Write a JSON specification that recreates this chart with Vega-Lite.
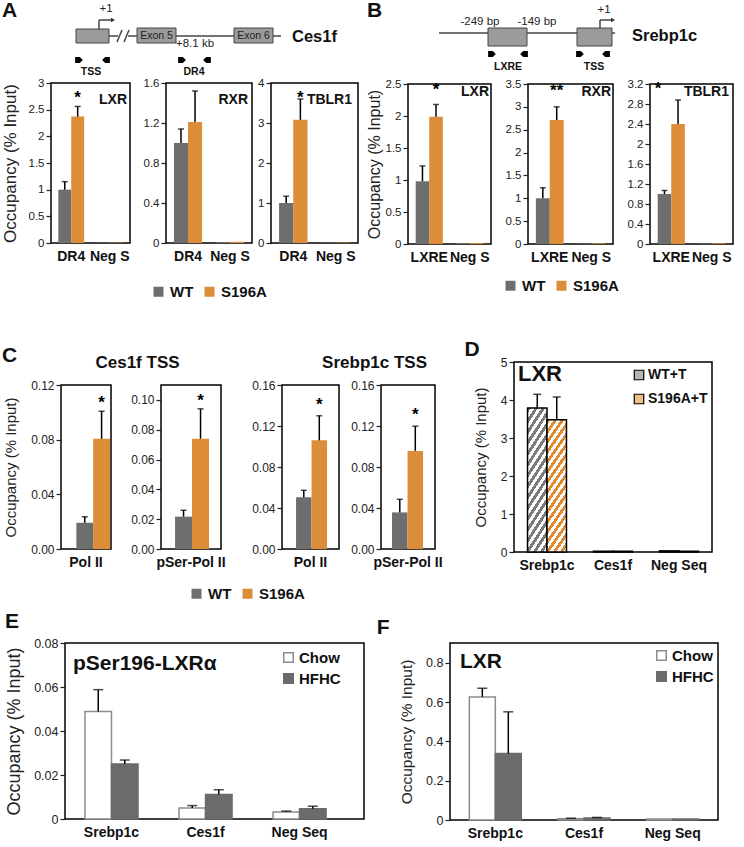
{
"$schema": "https://vega.github.io/schema/vega-lite/v6.json",
"background": "white",
"padding": {"left": 0, "top": 0, "right": 2, "bottom": 2},
"config": {
  "font": "Liberation Sans",
  "view": {"stroke": "black", "strokeWidth": 1.5},
  "axisX": {"ticks": false, "domain": false, "grid": false, "labelFontSize": 14, "labelFontWeight": "bold", "labelColor": "#111", "labelAngle": 0, "labelPadding": 6},
  "axisY": {"domain": false, "grid": false, "labelOverlap": false, "tickSize": 5, "tickWidth": 1.2, "tickColor": "#222", "labelColor": "#222", "labelPadding": 2, "labelFontSize": 12, "titleFontWeight": "normal", "titleColor": "#222"},
  "title": {"fontWeight": "bold", "color": "#111"}
},
"datasets": {
  "diagA": [
    {"kind": "seg", "x": 58, "y": 35, "x2": 67, "y2": 35},
    {"kind": "seg", "x": 77, "y": 35, "x2": 86, "y2": 35},
    {"kind": "seg", "x": 125, "y": 35, "x2": 183, "y2": 35},
    {"kind": "seg", "x": 222, "y": 35, "x2": 230, "y2": 35},
    {"kind": "seg", "x": 66, "y": 41, "x2": 71, "y2": 29},
    {"kind": "seg", "x": 73, "y": 41, "x2": 78, "y2": 29},
    {"kind": "seg", "x": 48, "y": 28, "x2": 48, "y2": 19},
    {"kind": "seg", "x": 48, "y": 19, "x2": 60, "y2": 19},
    {"kind": "head", "x": 62, "y": 19},
    {"kind": "box", "x": 25, "y": 28, "x2": 58, "y2": 42},
    {"kind": "box", "x": 86, "y": 27, "x2": 125, "y2": 42},
    {"kind": "box", "x": 183, "y": 27, "x2": 222, "y2": 42},
    {"kind": "exon", "x": 105.5, "y": 34.5, "label": "Exon 5"},
    {"kind": "exon", "x": 202.5, "y": 34.5, "label": "Exon 6"},
    {"kind": "note", "x": 55, "y": 8, "label": "+1"},
    {"kind": "note", "x": 144, "y": 43, "label": "+8.1 kb"},
    {"kind": "gene", "x": 241, "y": 36, "label": "Ces1f"},
    {"kind": "fwd", "x": 28, "y": 59},
    {"kind": "rev", "x": 55, "y": 59},
    {"kind": "fwd", "x": 131, "y": 59},
    {"kind": "rev", "x": 156, "y": 59},
    {"kind": "primer", "x": 40, "y": 71, "label": "TSS"},
    {"kind": "primer", "x": 143, "y": 71, "label": "DR4"}
  ],
  "diagB": [
    {"kind": "seg", "x": 31, "y": 32, "x2": 207, "y2": 32},
    {"kind": "seg", "x": 192, "y": 28, "x2": 192, "y2": 19},
    {"kind": "seg", "x": 192, "y": 19, "x2": 203, "y2": 19},
    {"kind": "head", "x": 205, "y": 19},
    {"kind": "box", "x": 80, "y": 27, "x2": 119, "y2": 45},
    {"kind": "box", "x": 169, "y": 27, "x2": 204, "y2": 45},
    {"kind": "note", "x": 72, "y": 21, "label": "-249 bp"},
    {"kind": "note", "x": 129, "y": 21, "label": "-149 bp"},
    {"kind": "note", "x": 196, "y": 9, "label": "+1"},
    {"kind": "gene", "x": 224, "y": 35, "label": "Srebp1c"},
    {"kind": "fwd", "x": 84, "y": 53},
    {"kind": "rev", "x": 116, "y": 53},
    {"kind": "fwd", "x": 172, "y": 53},
    {"kind": "rev", "x": 198, "y": 53},
    {"kind": "primer", "x": 100, "y": 66, "label": "LXRE"},
    {"kind": "primer", "x": 186, "y": 66, "label": "TSS"}
  ],
  "headerC": [{"panel": "Ces1f TSS"}, {"panel": "Srebp1c TSS"}],
  "blank": [{"k": 0}],
  "legWT": [{"group": "WT"}, {"group": "S196A"}],
  "A_LXR": [
    {"site": "DR4", "group": "WT", "value": 1.0, "err": 1.15},
    {"site": "DR4", "group": "S196A", "value": 2.37, "err": 2.56, "sig": "*"},
    {"site": "Neg S", "group": "WT", "value": 0.006},
    {"site": "Neg S", "group": "S196A", "value": 0.008}
  ],
  "A_RXR": [
    {"site": "DR4", "group": "WT", "value": 1.0, "err": 1.14},
    {"site": "DR4", "group": "S196A", "value": 1.21, "err": 1.52},
    {"site": "Neg S", "group": "WT", "value": 0.01},
    {"site": "Neg S", "group": "S196A", "value": 0.012}
  ],
  "A_TBLR1": [
    {"site": "DR4", "group": "WT", "value": 1.0, "err": 1.17},
    {"site": "DR4", "group": "S196A", "value": 3.08, "err": 3.6, "sig": "*"},
    {"site": "Neg S", "group": "WT", "value": 0.01},
    {"site": "Neg S", "group": "S196A", "value": 0.01}
  ],
  "B_LXR": [
    {"site": "LXRE", "group": "WT", "value": 0.98, "err": 1.22},
    {"site": "LXRE", "group": "S196A", "value": 1.99, "err": 2.18, "sig": "*"},
    {"site": "Neg S", "group": "WT", "value": 0.015},
    {"site": "Neg S", "group": "S196A", "value": 0.015}
  ],
  "B_RXR": [
    {"site": "LXRE", "group": "WT", "value": 1.0, "err": 1.23},
    {"site": "LXRE", "group": "S196A", "value": 2.71, "err": 3.0, "sig": "**"},
    {"site": "Neg S", "group": "WT", "value": 0.01},
    {"site": "Neg S", "group": "S196A", "value": 0.015}
  ],
  "B_TBLR1": [
    {"site": "LXRE", "group": "WT", "value": 1.0, "err": 1.07},
    {"site": "LXRE", "group": "S196A", "value": 2.4, "err": 2.88, "sig": "*"},
    {"site": "Neg S", "group": "WT", "value": 0.01},
    {"site": "Neg S", "group": "S196A", "value": 0.015}
  ],
  "C_ces_pol": [
    {"site": "Pol II", "group": "WT", "value": 0.0192, "err": 0.0236},
    {"site": "Pol II", "group": "S196A", "value": 0.0806, "err": 0.1008, "sig": "*"}
  ],
  "C_ces_pser": [
    {"site": "pSer-Pol II", "group": "WT", "value": 0.0217, "err": 0.026},
    {"site": "pSer-Pol II", "group": "S196A", "value": 0.074, "err": 0.094, "sig": "*"}
  ],
  "C_sreb_pol": [
    {"site": "Pol II", "group": "WT", "value": 0.0505, "err": 0.0573},
    {"site": "Pol II", "group": "S196A", "value": 0.106, "err": 0.13, "sig": "*"}
  ],
  "C_sreb_pser": [
    {"site": "pSer-Pol II", "group": "WT", "value": 0.0357, "err": 0.0485},
    {"site": "pSer-Pol II", "group": "S196A", "value": 0.0957, "err": 0.1198, "sig": "*"}
  ],
  "D": [
    {"site": "Srebp1c", "group": "WT+T", "value": 3.79, "err": 4.15},
    {"site": "Srebp1c", "group": "S196A+T", "value": 3.48, "err": 4.08},
    {"site": "Ces1f", "group": "WT+T", "value": 0.02},
    {"site": "Ces1f", "group": "S196A+T", "value": 0.02},
    {"site": "Neg Seq", "group": "WT+T", "value": 0.03},
    {"site": "Neg Seq", "group": "S196A+T", "value": 0.02}
  ],
  "E": [
    {"site": "Srebp1c", "diet": "Chow", "value": 0.0489, "err": 0.0588},
    {"site": "Srebp1c", "diet": "HFHC", "value": 0.025, "err": 0.0268},
    {"site": "Ces1f", "diet": "Chow", "value": 0.005, "err": 0.0061},
    {"site": "Ces1f", "diet": "HFHC", "value": 0.0111, "err": 0.0133},
    {"site": "Neg Seq", "diet": "Chow", "value": 0.0032, "err": 0.0036},
    {"site": "Neg Seq", "diet": "HFHC", "value": 0.0047, "err": 0.0058}
  ],
  "F": [
    {"site": "Srebp1c", "diet": "Chow", "value": 0.626, "err": 0.67},
    {"site": "Srebp1c", "diet": "HFHC", "value": 0.338, "err": 0.55},
    {"site": "Ces1f", "diet": "Chow", "value": 0.007, "err": 0.009},
    {"site": "Ces1f", "diet": "HFHC", "value": 0.01, "err": 0.013},
    {"site": "Neg Seq", "diet": "Chow", "value": 0.005},
    {"site": "Neg Seq", "diet": "HFHC", "value": 0.005}
  ]
},
"vconcat": [
  {
    "vconcat": [
      {
        "hconcat": [
          {
            "vconcat": [
              {
                "width": 300, "height": 74, "view": {"stroke": null}, "data": {"name": "diagA"},
                "title": {"text": "A", "anchor": "start", "frame": "group", "offset": -20, "dx": -49, "fontSize": 21},
                "encoding": {
                  "x": {"field": "x", "type": "quantitative", "scale": {"domain": [0, 300], "nice": false, "zero": false}, "axis": null},
                  "y": {"field": "y", "type": "quantitative", "scale": {"domain": [0, 74], "nice": false, "zero": false, "reverse": true}, "axis": null}
                },
                "layer": [
                  {"transform": [{"filter": "datum.kind == 'seg'"}], "mark": {"type": "rule", "color": "#444", "strokeWidth": 1.5}, "encoding": {"x2": {"field": "x2"}, "y2": {"field": "y2"}}},
                  {"transform": [{"filter": "datum.kind == 'box'"}], "mark": {"type": "rect", "fill": "#9b9b9b", "stroke": "#444", "strokeWidth": 1}, "encoding": {"x2": {"field": "x2"}, "y2": {"field": "y2"}}},
                  {"transform": [{"filter": "datum.kind == 'head'"}], "mark": {"type": "point", "shape": "triangle-right", "filled": true, "color": "#333", "size": 22, "opacity": 1}},
                  {"transform": [{"filter": "datum.kind == 'exon'"}], "mark": {"type": "text", "fontSize": 10.5, "color": "#222"}, "encoding": {"text": {"field": "label"}}},
                  {"transform": [{"filter": "datum.kind == 'note'"}], "mark": {"type": "text", "fontSize": 11.5, "color": "#222"}, "encoding": {"text": {"field": "label"}}},
                  {"transform": [{"filter": "datum.kind == 'gene'"}], "mark": {"type": "text", "fontSize": 16.5, "fontWeight": "bold", "align": "left", "color": "#111"}, "encoding": {"text": {"field": "label"}}},
                  {"transform": [{"filter": "datum.kind == 'fwd'"}], "mark": {"type": "point", "shape": "M-1,-0.75L0.2,-0.75L1,0L0.2,0.75L-1,0.75Z", "filled": true, "color": "black", "size": 60, "opacity": 1}},
                  {"transform": [{"filter": "datum.kind == 'rev'"}], "mark": {"type": "point", "shape": "M1,-0.75L-0.2,-0.75L-1,0L-0.2,0.75L1,0.75Z", "filled": true, "color": "black", "size": 60, "opacity": 1}},
                  {"transform": [{"filter": "datum.kind == 'primer'"}], "mark": {"type": "text", "fontSize": 10.5, "fontWeight": "bold", "color": "#111"}, "encoding": {"text": {"field": "label"}}}
                ]
              },
              {
                "hconcat": [
                  {
                    "width": 79, "height": 160, "data": {"name": "A_LXR"},
                    "title": {"text": "LXR", "anchor": "end", "frame": "group", "offset": -30, "dx": -3, "fontSize": 14},
                    "encoding": {
                      "x": {"field": "site", "type": "nominal", "sort": null, "title": null, "scale": {"paddingInner": 0.33, "paddingOuter": 0.19}},
                      "xOffset": {"field": "group", "type": "nominal", "sort": ["WT", "S196A"]}
                    },
                    "layer": [
                      {"mark": "bar", "encoding": {
                        "y": {"field": "value", "type": "quantitative", "scale": {"domain": [0, 3], "nice": false}, "axis": {"values": [0, 0.5, 1, 1.5, 2, 2.5, 3], "tickCount": 20, "labelOverlap": false, "format": "~g", "title": "Occupancy  (% Input)", "titleFontSize": 17, "titlePadding": 9, "labelFontSize": 11.5}},
                        "color": {"field": "group", "type": "nominal", "scale": {"domain": ["WT", "S196A"], "range": ["#6e6e6e", "#dd8c38"]}, "legend": null}}},
                      {"transform": [{"filter": "datum.err != null"}], "mark": {"type": "rule", "color": "black", "strokeWidth": 1.5}, "encoding": {"y": {"field": "value", "type": "quantitative"}, "y2": {"field": "err"}}},
                      {"transform": [{"filter": "datum.err != null"}], "mark": {"type": "tick", "color": "black", "thickness": 1.5, "size": 6}, "encoding": {"y": {"field": "err", "type": "quantitative"}}},
                      {"transform": [{"filter": "datum.sig != null"}], "mark": {"type": "text", "fontSize": 17, "fontWeight": "bold", "baseline": "middle", "dy": -8}, "encoding": {"y": {"field": "err", "type": "quantitative"}, "text": {"field": "sig"}}}
                    ]
                  },
                  {
                    "hconcat": [
                      {
                        "width": 86, "height": 160, "data": {"name": "A_RXR"},
                        "title": {"text": "RXR", "anchor": "end", "frame": "group", "offset": -30, "dx": -4, "fontSize": 14},
                        "encoding": {
                          "x": {"field": "site", "type": "nominal", "sort": null, "title": null, "scale": {"paddingInner": 0.33, "paddingOuter": 0.19}},
                          "xOffset": {"field": "group", "type": "nominal", "sort": ["WT", "S196A"]}
                        },
                        "layer": [
                          {"mark": "bar", "encoding": {
                            "y": {"field": "value", "type": "quantitative", "scale": {"domain": [0, 1.6], "nice": false}, "axis": {"values": [0, 0.4, 0.8, 1.2, 1.6], "tickCount": 20, "labelOverlap": false, "format": "~g", "title": null, "labelFontSize": 11.5}},
                            "color": {"field": "group", "type": "nominal", "scale": {"domain": ["WT", "S196A"], "range": ["#6e6e6e", "#dd8c38"]}, "legend": null}}},
                          {"transform": [{"filter": "datum.err != null"}], "mark": {"type": "rule", "color": "black", "strokeWidth": 1.5}, "encoding": {"y": {"field": "value", "type": "quantitative"}, "y2": {"field": "err"}}},
                          {"transform": [{"filter": "datum.err != null"}], "mark": {"type": "tick", "color": "black", "thickness": 1.5, "size": 6}, "encoding": {"y": {"field": "err", "type": "quantitative"}}}
                        ]
                      },
                      {
                        "width": 87, "height": 160, "data": {"name": "A_TBLR1"},
                        "title": {"text": "TBLR1", "anchor": "end", "frame": "group", "offset": -30, "dx": -6, "fontSize": 14},
                        "encoding": {
                          "x": {"field": "site", "type": "nominal", "sort": null, "title": null, "scale": {"paddingInner": 0.33, "paddingOuter": 0.19}},
                          "xOffset": {"field": "group", "type": "nominal", "sort": ["WT", "S196A"]}
                        },
                        "layer": [
                          {"mark": "bar", "encoding": {
                            "y": {"field": "value", "type": "quantitative", "scale": {"domain": [0, 4], "nice": false}, "axis": {"values": [0, 1, 2, 3, 4], "tickCount": 20, "labelOverlap": false, "format": "~g", "title": null, "labelFontSize": 11.5}},
                            "color": {"field": "group", "type": "nominal", "scale": {"domain": ["WT", "S196A"], "range": ["#6e6e6e", "#dd8c38"]}, "legend": null}}},
                          {"transform": [{"filter": "datum.err != null"}], "mark": {"type": "rule", "color": "black", "strokeWidth": 1.5}, "encoding": {"y": {"field": "value", "type": "quantitative"}, "y2": {"field": "err"}}},
                          {"transform": [{"filter": "datum.err != null"}], "mark": {"type": "tick", "color": "black", "thickness": 1.5, "size": 6}, "encoding": {"y": {"field": "err", "type": "quantitative"}}},
                          {"transform": [{"filter": "datum.sig != null"}], "mark": {"type": "text", "fontSize": 17, "fontWeight": "bold", "baseline": "middle", "dy": -1}, "encoding": {"y": {"field": "err", "type": "quantitative"}, "text": {"field": "sig"}}}
                        ]
                      }
                    ],
                    "spacing": 3,
                    "resolve": {"scale": {"color": "independent", "xOffset": "independent"}, "legend": {"color": "independent"}}
                  }
                ],
                "spacing": 11,
                "resolve": {"scale": {"color": "independent", "xOffset": "independent"}, "legend": {"color": "independent"}}
              },
              {
                "width": 1, "height": 1, "view": {"stroke": null}, "data": {"name": "legWT"},
                "mark": {"type": "point", "filled": true, "opacity": 0},
                "encoding": {"color": {"field": "group", "type": "nominal", "sort": null, "scale": {"domain": ["WT", "S196A"], "range": ["#6e6e6e", "#dd8c38"]},
                  "legend": {"orient": "none", "legendX": 100, "legendY": 19, "direction": "horizontal", "title": null, "symbolType": "square", "symbolSize": 100, "symbolOpacity": 1, "symbolStrokeWidth": 0, "labelFontSize": 15, "labelFontWeight": "bold", "labelColor": "#111", "columnPadding": 8, "labelOffset": 4}}}
              }
            ],
            "spacing": -2,
            "resolve": {"scale": {"color": "independent", "xOffset": "independent"}, "legend": {"color": "independent"}}
          },
          {
            "vconcat": [
              {
                "width": 300, "height": 74, "view": {"stroke": null}, "data": {"name": "diagB"},
                "title": {"text": "B", "anchor": "start", "frame": "group", "offset": -20, "dx": -41, "fontSize": 21},
                "encoding": {
                  "x": {"field": "x", "type": "quantitative", "scale": {"domain": [0, 300], "nice": false, "zero": false}, "axis": null},
                  "y": {"field": "y", "type": "quantitative", "scale": {"domain": [0, 74], "nice": false, "zero": false, "reverse": true}, "axis": null}
                },
                "layer": [
                  {"transform": [{"filter": "datum.kind == 'seg'"}], "mark": {"type": "rule", "color": "#444", "strokeWidth": 1.5}, "encoding": {"x2": {"field": "x2"}, "y2": {"field": "y2"}}},
                  {"transform": [{"filter": "datum.kind == 'box'"}], "mark": {"type": "rect", "fill": "#9b9b9b", "stroke": "#444", "strokeWidth": 1}, "encoding": {"x2": {"field": "x2"}, "y2": {"field": "y2"}}},
                  {"transform": [{"filter": "datum.kind == 'head'"}], "mark": {"type": "point", "shape": "triangle-right", "filled": true, "color": "#333", "size": 22, "opacity": 1}},
                  {"transform": [{"filter": "datum.kind == 'note'"}], "mark": {"type": "text", "fontSize": 11.5, "color": "#222"}, "encoding": {"text": {"field": "label"}}},
                  {"transform": [{"filter": "datum.kind == 'gene'"}], "mark": {"type": "text", "fontSize": 16.5, "fontWeight": "bold", "align": "left", "color": "#111"}, "encoding": {"text": {"field": "label"}}},
                  {"transform": [{"filter": "datum.kind == 'fwd'"}], "mark": {"type": "point", "shape": "M-1,-0.75L0.2,-0.75L1,0L0.2,0.75L-1,0.75Z", "filled": true, "color": "black", "size": 60, "opacity": 1}},
                  {"transform": [{"filter": "datum.kind == 'rev'"}], "mark": {"type": "point", "shape": "M1,-0.75L-0.2,-0.75L-1,0L-0.2,0.75L1,0.75Z", "filled": true, "color": "black", "size": 60, "opacity": 1}},
                  {"transform": [{"filter": "datum.kind == 'primer'"}], "mark": {"type": "text", "fontSize": 10.5, "fontWeight": "bold", "color": "#111"}, "encoding": {"text": {"field": "label"}}}
                ]
              },
              {
                "hconcat": [
                  {
                    "width": 83, "height": 160, "data": {"name": "B_LXR"},
                    "title": {"text": "LXR", "anchor": "end", "frame": "group", "offset": -21, "dx": -2, "fontSize": 14},
                    "encoding": {
                      "x": {"field": "site", "type": "nominal", "sort": null, "title": null, "scale": {"paddingInner": 0.33, "paddingOuter": 0.19}},
                      "xOffset": {"field": "group", "type": "nominal", "sort": ["WT", "S196A"]}
                    },
                    "layer": [
                      {"mark": "bar", "encoding": {
                        "y": {"field": "value", "type": "quantitative", "scale": {"domain": [0, 2.5], "nice": false}, "axis": {"values": [0, 0.5, 1, 1.5, 2, 2.5], "tickCount": 20, "labelOverlap": false, "format": "~g", "title": "Occupancy (% Input)", "titleFontSize": 16, "titlePadding": 3, "labelFontSize": 11.5}},
                        "color": {"field": "group", "type": "nominal", "scale": {"domain": ["WT", "S196A"], "range": ["#6e6e6e", "#dd8c38"]}, "legend": null}}},
                      {"transform": [{"filter": "datum.err != null"}], "mark": {"type": "rule", "color": "black", "strokeWidth": 1.5}, "encoding": {"y": {"field": "value", "type": "quantitative"}, "y2": {"field": "err"}}},
                      {"transform": [{"filter": "datum.err != null"}], "mark": {"type": "tick", "color": "black", "thickness": 1.5, "size": 6}, "encoding": {"y": {"field": "err", "type": "quantitative"}}},
                      {"transform": [{"filter": "datum.sig != null"}], "mark": {"type": "text", "fontSize": 17, "fontWeight": "bold", "baseline": "middle", "dy": -14}, "encoding": {"y": {"field": "err", "type": "quantitative"}, "text": {"field": "sig"}}}
                    ]
                  },
                  {
                    "width": 85, "height": 160, "data": {"name": "B_RXR"},
                    "title": {"text": "RXR", "anchor": "end", "frame": "group", "offset": -21, "dx": -2, "fontSize": 14},
                    "encoding": {
                      "x": {"field": "site", "type": "nominal", "sort": null, "title": null, "scale": {"paddingInner": 0.33, "paddingOuter": 0.19}},
                      "xOffset": {"field": "group", "type": "nominal", "sort": ["WT", "S196A"]}
                    },
                    "layer": [
                      {"mark": "bar", "encoding": {
                        "y": {"field": "value", "type": "quantitative", "scale": {"domain": [0, 3.5], "nice": false}, "axis": {"values": [0, 0.5, 1, 1.5, 2, 2.5, 3, 3.5], "tickCount": 20, "labelOverlap": false, "format": "~g", "title": null, "labelFontSize": 11.5}},
                        "color": {"field": "group", "type": "nominal", "scale": {"domain": ["WT", "S196A"], "range": ["#6e6e6e", "#dd8c38"]}, "legend": null}}},
                      {"transform": [{"filter": "datum.err != null"}], "mark": {"type": "rule", "color": "black", "strokeWidth": 1.5}, "encoding": {"y": {"field": "value", "type": "quantitative"}, "y2": {"field": "err"}}},
                      {"transform": [{"filter": "datum.err != null"}], "mark": {"type": "tick", "color": "black", "thickness": 1.5, "size": 6}, "encoding": {"y": {"field": "err", "type": "quantitative"}}},
                      {"transform": [{"filter": "datum.sig != null"}], "mark": {"type": "text", "fontSize": 17, "fontWeight": "bold", "baseline": "middle", "dy": -16}, "encoding": {"y": {"field": "err", "type": "quantitative"}, "text": {"field": "sig"}}}
                    ]
                  },
                  {
                    "width": 83, "height": 160, "data": {"name": "B_TBLR1"},
                    "title": {"text": "TBLR1", "anchor": "end", "frame": "group", "offset": -21, "dx": -4, "fontSize": 14},
                    "encoding": {
                      "x": {"field": "site", "type": "nominal", "sort": null, "title": null, "scale": {"paddingInner": 0.33, "paddingOuter": 0.19}},
                      "xOffset": {"field": "group", "type": "nominal", "sort": ["WT", "S196A"]}
                    },
                    "layer": [
                      {"mark": "bar", "encoding": {
                        "y": {"field": "value", "type": "quantitative", "scale": {"domain": [0, 3.2], "nice": false}, "axis": {"values": [0, 0.4, 0.8, 1.2, 1.6, 2, 2.4, 2.8, 3.2], "tickCount": 20, "labelOverlap": false, "format": "~g", "title": null, "labelFontSize": 11.5}},
                        "color": {"field": "group", "type": "nominal", "scale": {"domain": ["WT", "S196A"], "range": ["#6e6e6e", "#dd8c38"]}, "legend": null}}},
                      {"transform": [{"filter": "datum.err != null"}], "mark": {"type": "rule", "color": "black", "strokeWidth": 1.5}, "encoding": {"y": {"field": "value", "type": "quantitative"}, "y2": {"field": "err"}}},
                      {"transform": [{"filter": "datum.err != null"}], "mark": {"type": "tick", "color": "black", "thickness": 1.5, "size": 6}, "encoding": {"y": {"field": "err", "type": "quantitative"}}},
                      {"transform": [{"filter": "datum.sig != null"}], "mark": {"type": "text", "fontSize": 17, "fontWeight": "bold", "baseline": "middle", "dy": -11, "dx": -20}, "encoding": {"y": {"field": "err", "type": "quantitative"}, "text": {"field": "sig"}}}
                    ]
                  }
                ],
                "spacing": 12,
                "resolve": {"scale": {"color": "independent", "xOffset": "independent"}, "legend": {"color": "independent"}}
              },
              {
                "width": 1, "height": 1, "view": {"stroke": null}, "data": {"name": "legWT"},
                "mark": {"type": "point", "filled": true, "opacity": 0},
                "encoding": {"color": {"field": "group", "type": "nominal", "sort": null, "scale": {"domain": ["WT", "S196A"], "range": ["#6e6e6e", "#dd8c38"]},
                  "legend": {"orient": "none", "legendX": 95, "legendY": 8, "direction": "horizontal", "title": null, "symbolType": "square", "symbolSize": 100, "symbolOpacity": 1, "symbolStrokeWidth": 0, "labelFontSize": 15, "labelFontWeight": "bold", "labelColor": "#111", "columnPadding": 8, "labelOffset": 4}}}
              }
            ],
            "spacing": 2,
            "resolve": {"scale": {"color": "independent", "xOffset": "independent"}, "legend": {"color": "independent"}}
          }
        ],
        "spacing": 6,
        "resolve": {"scale": {"color": "independent", "xOffset": "independent"}, "legend": {"color": "independent"}}
      },
      {
        "hconcat": [
          {"width": 1, "height": 1, "view": {"stroke": null}, "data": {"name": "blank"}, "mark": {"type": "point", "opacity": 0}},
          {
            "hconcat": [
              {
                "vconcat": [
                  {
                    "width": 374, "height": 1, "view": {"stroke": null}, "data": {"name": "headerC"},
                    "title": {"text": "C", "anchor": "start", "frame": "group", "offset": -13, "dx": -59, "fontSize": 21},
                    "mark": {"type": "point", "opacity": 0},
                    "encoding": {
                      "x": {"field": "panel", "type": "nominal", "sort": null, "title": null, "scale": {"type": "point", "padding": 0.289, "align": 0.555},
                        "axis": {"orient": "top", "ticks": false, "tickSize": 0, "domain": false, "labelPadding": 0, "labelBaseline": "middle", "labelFontSize": 17, "labelFontWeight": "bold", "labelColor": "#111"}}
                    }
                  },
                  {
                    "hconcat": [
                      {
                        "hconcat": [
                          {
                            "width": 50, "height": 164, "data": {"name": "C_ces_pol"},
                            "encoding": {
                              "x": {"field": "site", "type": "nominal", "sort": null, "title": null, "scale": {"paddingInner": 0, "paddingOuter": 0}},
                              "xOffset": {"field": "group", "type": "nominal", "sort": ["WT", "S196A"], "scale": {"paddingInner": 0, "paddingOuter": 0.485, "align": 0.94}}
                            },
                            "layer": [
                              {"mark": "bar", "encoding": {
                                "y": {"field": "value", "type": "quantitative", "scale": {"domain": [0, 0.12], "nice": false}, "axis": {"values": [0, 0.04, 0.08, 0.12], "tickCount": 20, "labelOverlap": false, "format": ".2f", "title": "Occupancy (% Input)", "titleFontSize": 15, "titlePadding": 12}},
                                "color": {"field": "group", "type": "nominal", "scale": {"domain": ["WT", "S196A"], "range": ["#6e6e6e", "#dd8c38"]}, "legend": null}}},
                              {"transform": [{"filter": "datum.err != null"}], "mark": {"type": "rule", "color": "black", "strokeWidth": 1.5}, "encoding": {"y": {"field": "value", "type": "quantitative"}, "y2": {"field": "err"}}},
                              {"transform": [{"filter": "datum.err != null"}], "mark": {"type": "tick", "color": "black", "thickness": 1.5, "size": 6}, "encoding": {"y": {"field": "err", "type": "quantitative"}}},
                              {"transform": [{"filter": "datum.sig != null"}], "mark": {"type": "text", "fontSize": 17, "fontWeight": "bold", "baseline": "middle", "dy": -8.5}, "encoding": {"y": {"field": "err", "type": "quantitative"}, "text": {"field": "sig"}}}
                            ]
                          },
                          {
                            "width": 60, "height": 164, "data": {"name": "C_ces_pser"},
                            "encoding": {
                              "x": {"field": "site", "type": "nominal", "sort": null, "title": null, "scale": {"paddingInner": 0, "paddingOuter": 0}},
                              "xOffset": {"field": "group", "type": "nominal", "sort": ["WT", "S196A"], "scale": {"paddingInner": 0, "paddingOuter": 0.765, "align": 0.54}}
                            },
                            "layer": [
                              {"mark": "bar", "encoding": {
                                "y": {"field": "value", "type": "quantitative", "scale": {"domain": [0, 0.11], "nice": false}, "axis": {"values": [0, 0.02, 0.04, 0.06, 0.08, 0.1], "tickCount": 20, "labelOverlap": false, "format": ".2f", "title": null}},
                                "color": {"field": "group", "type": "nominal", "scale": {"domain": ["WT", "S196A"], "range": ["#6e6e6e", "#dd8c38"]}, "legend": null}}},
                              {"transform": [{"filter": "datum.err != null"}], "mark": {"type": "rule", "color": "black", "strokeWidth": 1.5}, "encoding": {"y": {"field": "value", "type": "quantitative"}, "y2": {"field": "err"}}},
                              {"transform": [{"filter": "datum.err != null"}], "mark": {"type": "tick", "color": "black", "thickness": 1.5, "size": 6}, "encoding": {"y": {"field": "err", "type": "quantitative"}}},
                              {"transform": [{"filter": "datum.sig != null"}], "mark": {"type": "text", "fontSize": 17, "fontWeight": "bold", "baseline": "middle", "dy": -7.5}, "encoding": {"y": {"field": "err", "type": "quantitative"}, "text": {"field": "sig"}}}
                            ]
                          }
                        ],
                        "spacing": 17,
                        "resolve": {"scale": {"color": "independent", "xOffset": "independent"}, "legend": {"color": "independent"}}
                      },
                      {
                        "hconcat": [
                          {
                            "width": 57, "height": 164, "data": {"name": "C_sreb_pol"},
                            "encoding": {
                              "x": {"field": "site", "type": "nominal", "sort": null, "title": null, "scale": {"paddingInner": 0, "paddingOuter": 0}},
                              "xOffset": {"field": "group", "type": "nominal", "sort": ["WT", "S196A"], "scale": {"paddingInner": 0, "paddingOuter": 0.84, "align": 0.54}}
                            },
                            "layer": [
                              {"mark": "bar", "encoding": {
                                "y": {"field": "value", "type": "quantitative", "scale": {"domain": [0, 0.16], "nice": false}, "axis": {"values": [0, 0.04, 0.08, 0.12, 0.16], "tickCount": 20, "labelOverlap": false, "format": ".2f", "title": null}},
                                "color": {"field": "group", "type": "nominal", "scale": {"domain": ["WT", "S196A"], "range": ["#6e6e6e", "#dd8c38"]}, "legend": null}}},
                              {"transform": [{"filter": "datum.err != null"}], "mark": {"type": "rule", "color": "black", "strokeWidth": 1.5}, "encoding": {"y": {"field": "value", "type": "quantitative"}, "y2": {"field": "err"}}},
                              {"transform": [{"filter": "datum.err != null"}], "mark": {"type": "tick", "color": "black", "thickness": 1.5, "size": 6}, "encoding": {"y": {"field": "err", "type": "quantitative"}}},
                              {"transform": [{"filter": "datum.sig != null"}], "mark": {"type": "text", "fontSize": 17, "fontWeight": "bold", "baseline": "middle", "dy": -10.5}, "encoding": {"y": {"field": "err", "type": "quantitative"}, "text": {"field": "sig"}}}
                            ]
                          },
                          {
                            "width": 54, "height": 164, "data": {"name": "C_sreb_pser"},
                            "encoding": {
                              "x": {"field": "site", "type": "nominal", "sort": null, "title": null, "scale": {"paddingInner": 0, "paddingOuter": 0}},
                              "xOffset": {"field": "group", "type": "nominal", "sort": ["WT", "S196A"], "scale": {"paddingInner": 0, "paddingOuter": 0.74, "align": 0.48}}
                            },
                            "layer": [
                              {"mark": "bar", "encoding": {
                                "y": {"field": "value", "type": "quantitative", "scale": {"domain": [0, 0.16], "nice": false}, "axis": {"values": [0, 0.04, 0.08, 0.12, 0.16], "tickCount": 20, "labelOverlap": false, "format": ".2f", "title": null}},
                                "color": {"field": "group", "type": "nominal", "scale": {"domain": ["WT", "S196A"], "range": ["#6e6e6e", "#dd8c38"]}, "legend": null}}},
                              {"transform": [{"filter": "datum.err != null"}], "mark": {"type": "rule", "color": "black", "strokeWidth": 1.5}, "encoding": {"y": {"field": "value", "type": "quantitative"}, "y2": {"field": "err"}}},
                              {"transform": [{"filter": "datum.err != null"}], "mark": {"type": "tick", "color": "black", "thickness": 1.5, "size": 6}, "encoding": {"y": {"field": "err", "type": "quantitative"}}},
                              {"transform": [{"filter": "datum.sig != null"}], "mark": {"type": "text", "fontSize": 17, "fontWeight": "bold", "baseline": "middle", "dy": -11.5}, "encoding": {"y": {"field": "err", "type": "quantitative"}, "text": {"field": "sig"}}}
                            ]
                          }
                        ],
                        "spacing": 9,
                        "resolve": {"scale": {"color": "independent", "xOffset": "independent"}, "legend": {"color": "independent"}}
                      }
                    ],
                    "spacing": 24,
                    "resolve": {"scale": {"color": "independent", "xOffset": "independent"}, "legend": {"color": "independent"}}
                  },
                  {
                    "width": 1, "height": 1, "view": {"stroke": null}, "data": {"name": "legWT"},
                    "mark": {"type": "point", "filled": true, "opacity": 0},
                    "encoding": {"color": {"field": "group", "type": "nominal", "sort": null, "scale": {"domain": ["WT", "S196A"], "range": ["#6e6e6e", "#dd8c38"]},
                      "legend": {"orient": "none", "legendX": 128, "legendY": 5, "direction": "horizontal", "title": null, "symbolType": "square", "symbolSize": 100, "symbolOpacity": 1, "symbolStrokeWidth": 0, "labelFontSize": 15, "labelFontWeight": "bold", "labelColor": "#111", "columnPadding": 8, "labelOffset": 4}}}
                  }
                ],
                "spacing": 8,
                "resolve": {"scale": {"color": "independent", "xOffset": "independent"}, "legend": {"color": "independent"}}
              },
              {
                "vconcat": [
                  {
                    "width": 198, "height": 190, "data": {"name": "D"},
                    "title": {"text": "LXR", "anchor": "start", "frame": "group", "offset": -30, "dx": 4, "fontSize": 22},
                    "encoding": {
                      "x": {"field": "site", "type": "nominal", "sort": null, "title": null, "scale": {"paddingInner": 0.41, "paddingOuter": 0.205}},
                      "xOffset": {"field": "group", "type": "nominal", "sort": ["WT+T", "S196A+T"]},
                      "y": {"field": "value", "type": "quantitative", "scale": {"domain": [0, 5], "nice": false}, "axis": {"values": [0, 1, 2, 3, 4, 5], "tickCount": 20, "labelOverlap": false, "format": "~g", "title": "Occupancy (% Input)", "titleFontSize": 15, "titlePadding": 12}}
                    },
                    "layer": [
                      {"transform": [{"filter": "datum.group == 'WT+T'"}], "mark": {"type": "bar", "stroke": "black", "strokeWidth": 1.5, "fill": {"gradient": "linear", "x1": 0, "y1": 0, "x2": 0.24, "y2": 1.155, "stops": [
                            {"offset": 0, "color": "#7b7b7b"}, {"offset": 0.03125, "color": "#7b7b7b"}, {"offset": 0.03125, "color": "white"}, {"offset": 0.0625, "color": "white"},
                            {"offset": 0.0625, "color": "#7b7b7b"}, {"offset": 0.09375, "color": "#7b7b7b"}, {"offset": 0.09375, "color": "white"}, {"offset": 0.125, "color": "white"},
                            {"offset": 0.125, "color": "#7b7b7b"}, {"offset": 0.15625, "color": "#7b7b7b"}, {"offset": 0.15625, "color": "white"}, {"offset": 0.1875, "color": "white"},
                            {"offset": 0.1875, "color": "#7b7b7b"}, {"offset": 0.21875, "color": "#7b7b7b"}, {"offset": 0.21875, "color": "white"}, {"offset": 0.25, "color": "white"},
                            {"offset": 0.25, "color": "#7b7b7b"}, {"offset": 0.28125, "color": "#7b7b7b"}, {"offset": 0.28125, "color": "white"}, {"offset": 0.3125, "color": "white"},
                            {"offset": 0.3125, "color": "#7b7b7b"}, {"offset": 0.34375, "color": "#7b7b7b"}, {"offset": 0.34375, "color": "white"}, {"offset": 0.375, "color": "white"},
                            {"offset": 0.375, "color": "#7b7b7b"}, {"offset": 0.40625, "color": "#7b7b7b"}, {"offset": 0.40625, "color": "white"}, {"offset": 0.4375, "color": "white"},
                            {"offset": 0.4375, "color": "#7b7b7b"}, {"offset": 0.46875, "color": "#7b7b7b"}, {"offset": 0.46875, "color": "white"}, {"offset": 0.5, "color": "white"},
                            {"offset": 0.5, "color": "#7b7b7b"}, {"offset": 0.53125, "color": "#7b7b7b"}, {"offset": 0.53125, "color": "white"}, {"offset": 0.5625, "color": "white"},
                            {"offset": 0.5625, "color": "#7b7b7b"}, {"offset": 0.59375, "color": "#7b7b7b"}, {"offset": 0.59375, "color": "white"}, {"offset": 0.625, "color": "white"},
                            {"offset": 0.625, "color": "#7b7b7b"}, {"offset": 0.65625, "color": "#7b7b7b"}, {"offset": 0.65625, "color": "white"}, {"offset": 0.6875, "color": "white"},
                            {"offset": 0.6875, "color": "#7b7b7b"}, {"offset": 0.71875, "color": "#7b7b7b"}, {"offset": 0.71875, "color": "white"}, {"offset": 0.75, "color": "white"},
                            {"offset": 0.75, "color": "#7b7b7b"}, {"offset": 0.78125, "color": "#7b7b7b"}, {"offset": 0.78125, "color": "white"}, {"offset": 0.8125, "color": "white"},
                            {"offset": 0.8125, "color": "#7b7b7b"}, {"offset": 0.84375, "color": "#7b7b7b"}, {"offset": 0.84375, "color": "white"}, {"offset": 0.875, "color": "white"},
                            {"offset": 0.875, "color": "#7b7b7b"}, {"offset": 0.90625, "color": "#7b7b7b"}, {"offset": 0.90625, "color": "white"}, {"offset": 0.9375, "color": "white"},
                            {"offset": 0.9375, "color": "#7b7b7b"}, {"offset": 0.96875, "color": "#7b7b7b"}, {"offset": 0.96875, "color": "white"}, {"offset": 1, "color": "white"}
                          ]}}},
                      {"transform": [{"filter": "datum.group == 'S196A+T'"}], "mark": {"type": "bar", "stroke": "black", "strokeWidth": 1.5, "fill": {"gradient": "linear", "x1": 0, "y1": 0, "x2": 0.244, "y2": 1.159, "stops": [
                            {"offset": 0, "color": "#e08a2e"}, {"offset": 0.03125, "color": "#e08a2e"}, {"offset": 0.03125, "color": "white"}, {"offset": 0.0625, "color": "white"},
                            {"offset": 0.0625, "color": "#e08a2e"}, {"offset": 0.09375, "color": "#e08a2e"}, {"offset": 0.09375, "color": "white"}, {"offset": 0.125, "color": "white"},
                            {"offset": 0.125, "color": "#e08a2e"}, {"offset": 0.15625, "color": "#e08a2e"}, {"offset": 0.15625, "color": "white"}, {"offset": 0.1875, "color": "white"},
                            {"offset": 0.1875, "color": "#e08a2e"}, {"offset": 0.21875, "color": "#e08a2e"}, {"offset": 0.21875, "color": "white"}, {"offset": 0.25, "color": "white"},
                            {"offset": 0.25, "color": "#e08a2e"}, {"offset": 0.28125, "color": "#e08a2e"}, {"offset": 0.28125, "color": "white"}, {"offset": 0.3125, "color": "white"},
                            {"offset": 0.3125, "color": "#e08a2e"}, {"offset": 0.34375, "color": "#e08a2e"}, {"offset": 0.34375, "color": "white"}, {"offset": 0.375, "color": "white"},
                            {"offset": 0.375, "color": "#e08a2e"}, {"offset": 0.40625, "color": "#e08a2e"}, {"offset": 0.40625, "color": "white"}, {"offset": 0.4375, "color": "white"},
                            {"offset": 0.4375, "color": "#e08a2e"}, {"offset": 0.46875, "color": "#e08a2e"}, {"offset": 0.46875, "color": "white"}, {"offset": 0.5, "color": "white"},
                            {"offset": 0.5, "color": "#e08a2e"}, {"offset": 0.53125, "color": "#e08a2e"}, {"offset": 0.53125, "color": "white"}, {"offset": 0.5625, "color": "white"},
                            {"offset": 0.5625, "color": "#e08a2e"}, {"offset": 0.59375, "color": "#e08a2e"}, {"offset": 0.59375, "color": "white"}, {"offset": 0.625, "color": "white"},
                            {"offset": 0.625, "color": "#e08a2e"}, {"offset": 0.65625, "color": "#e08a2e"}, {"offset": 0.65625, "color": "white"}, {"offset": 0.6875, "color": "white"},
                            {"offset": 0.6875, "color": "#e08a2e"}, {"offset": 0.71875, "color": "#e08a2e"}, {"offset": 0.71875, "color": "white"}, {"offset": 0.75, "color": "white"},
                            {"offset": 0.75, "color": "#e08a2e"}, {"offset": 0.78125, "color": "#e08a2e"}, {"offset": 0.78125, "color": "white"}, {"offset": 0.8125, "color": "white"},
                            {"offset": 0.8125, "color": "#e08a2e"}, {"offset": 0.84375, "color": "#e08a2e"}, {"offset": 0.84375, "color": "white"}, {"offset": 0.875, "color": "white"},
                            {"offset": 0.875, "color": "#e08a2e"}, {"offset": 0.90625, "color": "#e08a2e"}, {"offset": 0.90625, "color": "white"}, {"offset": 0.9375, "color": "white"},
                            {"offset": 0.9375, "color": "#e08a2e"}, {"offset": 0.96875, "color": "#e08a2e"}, {"offset": 0.96875, "color": "white"}, {"offset": 1, "color": "white"}
                          ]}}},
                      {"mark": {"type": "point", "filled": true, "opacity": 0, "size": 0}, "encoding": {
                        "fill": {"field": "group", "type": "nominal", "scale": {"domain": ["WT+T", "S196A+T"], "range": ["#b5b5b5", "#efbf88"]},
                          "legend": {"orient": "none", "legendX": 118, "legendY": 6, "title": null, "symbolType": "square", "symbolSize": 90, "symbolOpacity": 1, "symbolStrokeColor": "black", "symbolStrokeWidth": 1.2, "labelFontSize": 14, "labelFontWeight": "bold", "labelColor": "#111", "rowPadding": 8, "labelOffset": 2}}}},
                      {"transform": [{"filter": "datum.err != null"}], "mark": {"type": "rule", "color": "black", "strokeWidth": 1.5}, "encoding": {"y2": {"field": "err"}}},
                      {"transform": [{"filter": "datum.err != null"}], "mark": {"type": "tick", "color": "black", "thickness": 1.5, "size": 8}, "encoding": {"y": {"field": "err", "type": "quantitative"}}}
                    ]
                  }
                ],
                "title": {"text": "D", "anchor": "start", "frame": "bounds", "fontSize": 21, "dx": -8, "offset": -5},
                "resolve": {"scale": {"fill": "independent", "xOffset": "independent"}, "legend": {"fill": "independent"}}
              }
            ],
            "spacing": 21,
            "resolve": {"scale": {"color": "independent", "fill": "independent", "xOffset": "independent"}, "legend": {"color": "independent", "fill": "independent"}}
          }
        ],
        "spacing": 9,
        "bounds": "flush",
        "resolve": {"scale": {"color": "independent", "fill": "independent", "xOffset": "independent"}, "legend": {"color": "independent", "fill": "independent"}}
      }
    ],
    "spacing": 39,
    "resolve": {"scale": {"color": "independent", "fill": "independent", "xOffset": "independent"}, "legend": {"color": "independent", "fill": "independent"}}
  },
  {
    "hconcat": [
      {"width": 1, "height": 1, "view": {"stroke": null}, "data": {"name": "blank"}, "mark": {"type": "point", "opacity": 0}},
      {
        "hconcat": [
          {
            "vconcat": [
              {
                "width": 299, "height": 176, "data": {"name": "E"},
                "title": {"text": "pSer196-LXRα", "anchor": "start", "frame": "group", "offset": -37, "dx": 8, "fontSize": 21},
                "encoding": {
                  "x": {"field": "site", "type": "nominal", "sort": null, "title": null, "scale": {"paddingInner": 0.436, "paddingOuter": 0.308, "align": 0.345}},
                  "xOffset": {"field": "diet", "type": "nominal", "sort": ["Chow", "HFHC"]}
                },
                "layer": [
                  {"mark": {"type": "bar", "strokeWidth": 1.5}, "encoding": {
                    "y": {"field": "value", "type": "quantitative", "scale": {"domain": [0, 0.08], "nice": false}, "axis": {"values": [0, 0.02, 0.04, 0.06, 0.08], "tickCount": 20, "labelOverlap": false, "format": "~g", "title": "Occupancy (% Input)", "titleFontSize": 18, "titlePadding": 10, "labelFontSize": 12.5}},
                    "fill": {"field": "diet", "type": "nominal", "scale": {"domain": ["Chow", "HFHC"], "range": ["white", "#6b6b6b"]},
                      "legend": {"orient": "none", "legendX": 216, "legendY": 7, "title": null, "symbolType": "square", "symbolSize": 90, "symbolStrokeColor": "#8c8c8c", "symbolStrokeWidth": 1.5, "labelFontSize": 15, "labelFontWeight": "bold", "labelColor": "#111", "rowPadding": 4, "labelOffset": 3}},
                    "stroke": {"field": "diet", "type": "nominal", "scale": {"domain": ["Chow", "HFHC"], "range": ["#8c8c8c", "#6b6b6b"]}, "legend": null}}},
                  {"transform": [{"filter": "datum.err != null"}], "mark": {"type": "rule", "color": "black", "strokeWidth": 1.5}, "encoding": {"y": {"field": "value", "type": "quantitative"}, "y2": {"field": "err"}}},
                  {"transform": [{"filter": "datum.err != null"}], "mark": {"type": "tick", "color": "black", "thickness": 1.5, "size": 10}, "encoding": {"y": {"field": "err", "type": "quantitative"}}}
                ]
              }
            ],
            "title": {"text": "E", "anchor": "start", "frame": "bounds", "fontSize": 21},
            "resolve": {"scale": {"fill": "independent", "stroke": "independent", "xOffset": "independent"}, "legend": {"fill": "independent", "stroke": "independent"}}
          },
          {
            "vconcat": [
              {
                "width": 268, "height": 177, "data": {"name": "F"},
                "title": {"text": "LXR", "anchor": "start", "frame": "group", "offset": -29, "dx": 10, "fontSize": 21},
                "encoding": {
                  "x": {"field": "site", "type": "nominal", "sort": null, "title": null, "scale": {"paddingInner": 0.414, "paddingOuter": 0.218}},
                  "xOffset": {"field": "diet", "type": "nominal", "sort": ["Chow", "HFHC"]}
                },
                "layer": [
                  {"mark": {"type": "bar", "strokeWidth": 1.5}, "encoding": {
                    "y": {"field": "value", "type": "quantitative", "scale": {"domain": [0, 0.9], "nice": false}, "axis": {"values": [0, 0.2, 0.4, 0.6, 0.8], "tickCount": 20, "labelOverlap": false, "format": "~g", "title": "Occupancy (% Input)", "titleFontSize": 15.5, "titlePadding": 11, "labelFontSize": 12.5}},
                    "fill": {"field": "diet", "type": "nominal", "scale": {"domain": ["Chow", "HFHC"], "range": ["white", "#6b6b6b"]},
                      "legend": {"orient": "none", "legendX": 204, "legendY": 5, "title": null, "symbolType": "square", "symbolSize": 90, "symbolStrokeColor": "#8c8c8c", "symbolStrokeWidth": 1.5, "labelFontSize": 15, "labelFontWeight": "bold", "labelColor": "#111", "rowPadding": 4, "labelOffset": 3}},
                    "stroke": {"field": "diet", "type": "nominal", "scale": {"domain": ["Chow", "HFHC"], "range": ["#8c8c8c", "#6b6b6b"]}, "legend": null}}},
                  {"transform": [{"filter": "datum.err != null"}], "mark": {"type": "rule", "color": "black", "strokeWidth": 1.5}, "encoding": {"y": {"field": "value", "type": "quantitative"}, "y2": {"field": "err"}}},
                  {"transform": [{"filter": "datum.err != null"}], "mark": {"type": "tick", "color": "black", "thickness": 1.5, "size": 10}, "encoding": {"y": {"field": "err", "type": "quantitative"}}}
                ]
              }
            ],
            "title": {"text": "F", "anchor": "start", "frame": "bounds", "fontSize": 21, "dx": -22},
            "resolve": {"scale": {"fill": "independent", "stroke": "independent", "xOffset": "independent"}, "legend": {"fill": "independent", "stroke": "independent"}}
          }
        ],
        "spacing": 11,
        "resolve": {"scale": {"fill": "independent", "stroke": "independent", "xOffset": "independent"}, "legend": {"fill": "independent", "stroke": "independent"}}
      }
    ],
    "spacing": 13,
    "bounds": "flush",
    "resolve": {"scale": {"fill": "independent", "stroke": "independent", "xOffset": "independent"}, "legend": {"fill": "independent", "stroke": "independent"}}
  }
],
"spacing": 9,
"resolve": {"scale": {"color": "independent", "fill": "independent", "stroke": "independent", "xOffset": "independent"}, "legend": {"color": "independent", "fill": "independent", "stroke": "independent"}}
}
